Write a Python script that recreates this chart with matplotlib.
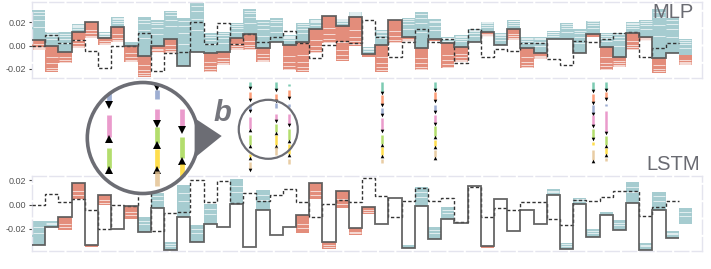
import numpy as np
import matplotlib.pyplot as plt
from matplotlib.patches import Circle, Ellipse, Polygon

plt.rcParams['font.family'] = ['Liberation Sans', 'DejaVu Sans']

W, H = 711, 269
TEAL = '#a6ccd0'
SALMON = '#e38d7b'
LINE_C = '#555555'
DASH_C = '#333333'
FRAME_C = '#e4e4ee'
LABEL_C = '#6a6b72'
RING_C = '#6c6d74'
SET2 = ['#66c2a5', '#fc8d62', '#8da0cb', '#e78ac3', '#a6d854', '#ffd92f', '#e5c494']

# -------------------------------
# data (one value per time step)
# -------------------------------
# target series (dashed), shared by both panels
target = [0.0, 0.0092, 0.0025, 0.0047, -0.0045, -0.0196, 0.0, -0.0007, 0.0106, -0.0218,
          -0.0066, -0.0058, 0.0203, 0.0018, 0.0192, 0.0012, 0.0098, 0.003, 0.0078, 0.0126,
          0.002, -0.0102, 0.0005, 0.004, 0.0021, 0.0218, 0.0072, -0.0101, 0.0032, 0.014,
          0.003, 0.0056, -0.0146, 0.0143, -0.0098, -0.003, -0.0045, 0.0024, 0.0024, -0.0119,
          -0.0168, 0.004, 0.0028, 0.006, 0.0112, 0.0115, -0.0094, -0.0018, 0.0027]

# MLP: prediction (solid), top of blue band, bottom of red band
mlp_pred = [0.0049, 0.0, -0.0057, 0.0115, 0.0201, 0.0063, 0.0158, 0.0, -0.0086, 0.0,
            0.0057, -0.0172, -0.0052, -0.0066, -0.0052, 0.0063, 0.0098, -0.0023, 0.0029, 0.0006,
            0.0034, 0.0141, 0.0259, 0.0172, 0.0244, -0.0072, 0.0006, 0.0221, 0.0072, -0.0023,
            0.0057, 0.0020, -0.0009, 0.0034, 0.0121, 0.0006, 0.0144, -0.0017, -0.0066, 0.0055,
            0.0057, -0.0066, 0.0101, -0.0009, -0.0095, 0.0106, 0.0078, -0.0109, -0.0060, -0.0080]
mlp_up = [0.0307, 0.0121, 0.0115, 0.0184, 0.0201, 0.0115, 0.0244, 0.0029, 0.0244, 0.0221,
          0.0302, 0.0236, 0.0365, 0.0106, 0.0121, 0.0193, 0.0313, 0.0221, 0.0236, 0.0092,
          0.0193, 0.0230, 0.0259, 0.0230, 0.0293, -0.0014, 0.0135, 0.0221, 0.0236, 0.0293,
          0.0227, 0.0072, 0.0092, 0.0141, 0.0207, 0.0106, 0.0221, 0.0072, 0.0078, 0.0126,
          0.0193, 0.0141, 0.0216, 0.0106, 0.0112, 0.0201, 0.0221, 0.0313, 0.0236, 0.0055]
mlp_down = [-0.0037, -0.0224, -0.0152, -0.0023, 0.0063, 0.0006, 0.0029, -0.0144, -0.0267, -0.0060,
            -0.0066, -0.0172, -0.0052, -0.0224, -0.0167, -0.0037, -0.0037, -0.0138, 0.0029, -0.0210,
            -0.0224, -0.0066, 0.0020, -0.0132, 0.0, -0.0095, -0.0224, 0.0020, 0.0034, -0.0210,
            0.0043, -0.0195, -0.0144, 0.0034, 0.0078, 0.0006, 0.0049, -0.0195, -0.0115, 0.0055,
            0.0057, -0.0066, 0.0078, -0.0210, -0.0181, -0.0037, 0.0043, -0.0239, -0.0060, -0.0167]

# LSTM
lstm_pred = [-0.0334, -0.0183, -0.0101, 0.0181, -0.0334, 0.0082, -0.0202, -0.0011, -0.0224, -0.0027,
             -0.0375, -0.0101, -0.0307, -0.0156, -0.0183, 0.0003, -0.0348, -0.0046, -0.0252, -0.0183,
             -0.0082, 0.0181, -0.0307, 0.0113, -0.0192, -0.0019, -0.0156, 0.0058, -0.0356, -0.0011,
             -0.0279, -0.0115, -0.0148, 0.0154, -0.0339, 0.0050, -0.0219, -0.0046, -0.0156, 0.0082,
             -0.0367, 0.0008, -0.0266, -0.0082, -0.0205, 0.0014, -0.0375, -0.0041, -0.0271, -0.0156]
lstm_up = [-0.0137, -0.0137, -0.0101, 0.0181, -0.0334, 0.0082, -0.0202, -0.0011, -0.0101, 0.0099,
           -0.0307, 0.0159, -0.0164, 0.0008, -0.0183, 0.0209, -0.0348, 0.0118, -0.0252, -0.0183,
           -0.0082, 0.0181, -0.0307, 0.0113, -0.0192, -0.0019, -0.0156, 0.0058, -0.0334, 0.0145,
           -0.0183, -0.0019, -0.0148, 0.0154, -0.0339, 0.0050, -0.0219, -0.0046, -0.0156, 0.0126,
           -0.0312, 0.0055, -0.0202, -0.0060, -0.0129, 0.0187, -0.0312, 0.0104, -0.0219, -0.0027]
lstm_down = [-0.0334, -0.0183, -0.0211, 0.0044, -0.0348, -0.0005, -0.0202, -0.0115, -0.0224, -0.0027,
             -0.0375, -0.0101, -0.0307, -0.0156, -0.0183, 0.0003, -0.0348, -0.0046, -0.0252, -0.0183,
             -0.0233, 0.0044, -0.0361, -0.0027, -0.0252, -0.0074, -0.0156, 0.0058, -0.0356, -0.0011,
             -0.0279, -0.0115, -0.0148, 0.0154, -0.0356, 0.0050, -0.0219, -0.0046, -0.0156, 0.0082,
             -0.0367, 0.0008, -0.0266, -0.0082, -0.0205, 0.0014, -0.0375, -0.0041, -0.0271, -0.0156]

yticks = [-0.02, 0.0, 0.02]
ytick_labels = ['-0.02', '0.00', '0.02']

# feature contribution arrows between the panels
arrow_steps = [16.5, 18.5, 19.5, 26.5, 30.5, 42.5, 43.5]
seg_start = [
    [3.7, 13.7, 25.3, 38.7, 56.3, 75.3, 83.7],
    [3.7, 15.3, 25.0, 35.3, 45.3, 57.0, 68.7],
    [5.3, 12.0, 25.3, 35.3, 50.3, 65.3, 80.3],
    [3.7, 17.0, 29.3, 39.7, 57.0, 68.7, 80.3],
    [3.7, 13.7, 26.3, 36.3, 47.7, 61.3, 72.0],
    [3.7, 16.0, 27.0, 37.0, 51.0, 63.7, 72.0],
    [3.7, 13.7, 25.3, 33.0, 57.7, 69.7, 79.7],
]
seg_end = [
    [8.7, 20.3, 32.0, 50.3, 67.0, 78.7, 91.0],
    [10.3, 22.0, 30.0, 42.0, 53.7, 67.0, 77.0],
    [7.7, 18.7, 28.7, 45.3, 62.0, 75.3, 85.3],
    [13.7, 25.3, 35.3, 52.0, 65.3, 76.3, 84.3],
    [11.0, 22.0, 33.0, 44.3, 57.7, 67.7, 78.7],
    [12.0, 23.7, 34.3, 47.0, 59.7, 67.0, 82.0],
    [11.0, 19.7, 27.7, 53.7, 66.3, 75.3, 83.0],
]
seg_head = ['vvv^^^v', 'vv.v^^.', '.v.v^^.', 'vvvv^^.', 'vvvv^^^', 'vvvvv.^', 'vv.v^^.']


# -------------------------------
# helpers
# -------------------------------
def fig_box(x0, y0, x1, y1):
    return [x0 / W, 1 - y1 / H, (x1 - x0) / W, (y1 - y0) / H]


def draw_panel(ax, pred, up, down, ylim, stripes):
    n = len(pred)
    x = np.arange(n)
    pred = np.array(pred); up = np.array(up); down = np.array(down)
    ax.bar(x, up - pred, bottom=pred, width=1, align='edge', color=TEAL, lw=0, zorder=1)
    ax.bar(x, pred - down, bottom=down, width=1, align='edge', color=SALMON, lw=0, zorder=1)
    # white layer edges inside the bands, denser towards the outer end
    for xi, p, u, d in zip(x, pred, up, down):
        for outer in (u, d):
            h = outer - p
            if abs(h) < 0.003:
                continue
            ys = [outer - f * h for f in stripes]
            ax.hlines(ys, xi + 0.04, xi + 0.96, color='white', lw=0.5, alpha=0.95, zorder=2)
    edges = np.arange(n)
    ax.stairs(target, edges, baseline=None, color=DASH_C, lw=1.0,
              linestyle=(0, (2.4, 1.6)), zorder=3)
    ax.stairs(pred[:-1], edges, baseline=None, color=LINE_C, lw=1.3, alpha=0.9, zorder=4)
    ax.set_xlim(0, 50.76)
    ax.set_ylim(*ylim)
    ax.set_xticks([])
    ax.set_yticks(yticks)
    ax.set_yticklabels(ytick_labels)
    ax.tick_params(axis='y', length=2.5, width=0.8, color='#444', pad=1.5,
                   labelsize=6.5, labelcolor='#555')
    for sp in ax.spines.values():
        sp.set_color(FRAME_C)
        sp.set_linewidth(1.0)
        sp.set_linestyle((0, (10, 2.5)))


def draw_arrows(ax, lw, ms, head_off, clip=None):
    for xs, st, en, hd in zip(arrow_steps, seg_start, seg_end, seg_head):
        for j in range(len(st)):
            ln, = ax.plot([xs, xs], [st[j], en[j]], color=SET2[j], lw=lw,
                          solid_capstyle='butt', alpha=0.85)
            if clip is not None:
                ln.set_clip_path(clip)
            if hd[j] in 'v^':
                mk, = ax.plot(xs, en[j] + head_off, marker=hd[j], color='black',
                              ms=ms, mew=0, ls='none')
                if clip is not None:
                    mk.set_clip_path(clip)


# -------------------------------
# figure
# -------------------------------
fig = plt.figure(figsize=(W / 100, H / 100), dpi=100)

ax_mlp = fig.add_axes(fig_box(32, 1.7, 702, 78.3))
draw_panel(ax_mlp, mlp_pred, mlp_up, mlp_down, (-0.0281, 0.0379),
           [0.06, 0.16, 0.32, 0.55])

ax_lstm = fig.add_axes(fig_box(32, 176, 702, 250.5))
draw_panel(ax_lstm, lstm_pred, lstm_up, lstm_down, (-0.0377, 0.0236),
           [0.25, 0.5])

# arrows between the panels
ax_mid = fig.add_axes(fig_box(32, 78.3, 702, 176))
ax_mid.set_xlim(0, 50.76)
ax_mid.set_ylim(97.7, 0)
ax_mid.axis('off')
draw_arrows(ax_mid, lw=1.8, ms=2.6, head_off=0.9)

# small magnifier ring
cx, cy, r_small = 17.9, 51.0, 29.5
px_per_col = 670 / 50.76
ax_mid.add_patch(Ellipse((cx, cy), 2 * r_small / px_per_col, 2 * r_small,
                         fill=False, ec=RING_C, lw=1.6, zorder=5))

# big magnified view
ZOOM = 1.85
bx, by, R = 142.8, 138.0, 55.5
ax_zoom = fig.add_axes(fig_box(bx - R, by - R, bx + R, by + R))
half = R / ZOOM
ax_zoom.set_xlim(cx - half / px_per_col, cx + half / px_per_col)
ax_zoom.set_ylim(cy + half, cy - half)
ax_zoom.axis('off')
disk = Circle((0.5, 0.5), 0.5, transform=ax_zoom.transAxes, fc='white', ec='none', zorder=0)
ax_zoom.add_patch(disk)
draw_arrows(ax_zoom, lw=3.4, ms=5.2, head_off=1.2, clip=disk)
ax_zoom.add_patch(Circle((0.5, 0.5), 0.5, transform=ax_zoom.transAxes, fill=False,
                         ec=RING_C, lw=2.6, zorder=10, clip_on=False))

# pointer triangle from big view to the small ring
ang = np.deg2rad(21)
tri_px = [(bx + R * np.cos(ang), by - R * np.sin(ang)),
          (bx + R * np.cos(ang), by + R * np.sin(ang)),
          (221.7, 136.0)]
tri = Polygon([(x / W, 1 - y / H) for x, y in tri_px], closed=True,
              transform=fig.transFigure, fc=RING_C, ec='none')
fig.patches.append(tri)

fig.text(222 / W, 1 - 113 / H, 'b', fontsize=21, fontweight='bold', style='italic',
         color='#75767d', ha='center', va='center')
fig.text(694 / W, 1 - 17.5 / H, 'MLP', fontsize=14.5, color=LABEL_C, ha='right', va='baseline')
fig.text(700 / W, 1 - 170.5 / H, 'LSTM', fontsize=14.5, color=LABEL_C, ha='right', va='baseline')

fig.savefig('out.png', dpi=100)
